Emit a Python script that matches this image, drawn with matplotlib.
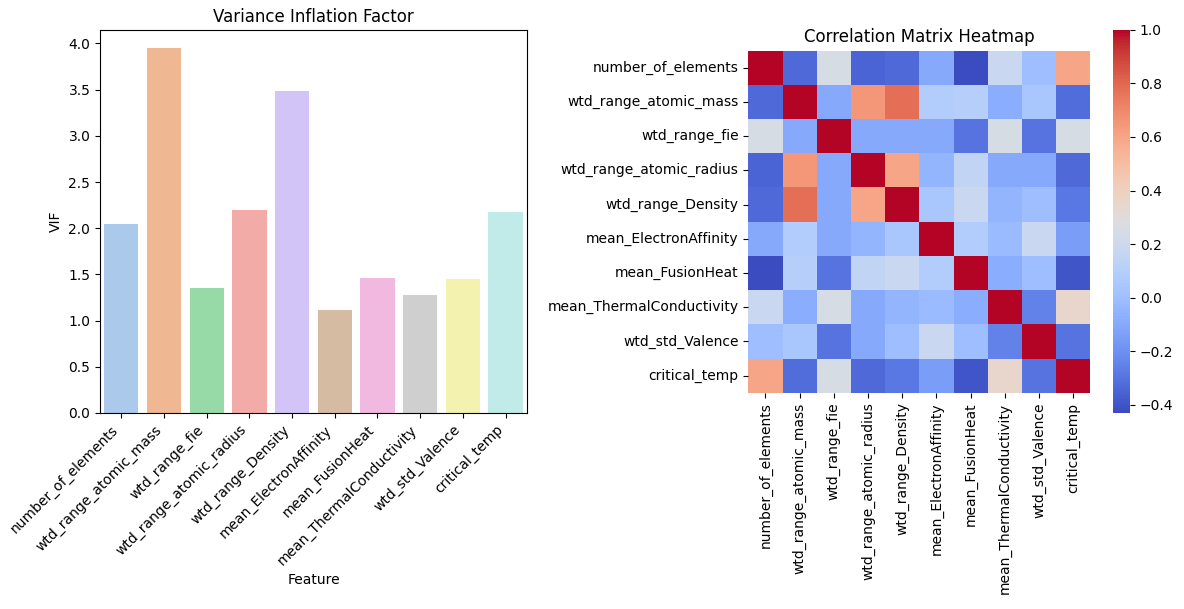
import numpy as np
import matplotlib
matplotlib.use("Agg")
import matplotlib.pyplot as plt
import seaborn as sns
import pandas as pd

features = ["number_of_elements", "wtd_range_atomic_mass", "wtd_range_fie",
            "wtd_range_atomic_radius", "wtd_range_Density", "mean_ElectronAffinity",
            "mean_FusionHeat", "mean_ThermalConductivity", "wtd_std_Valence", "critical_temp"]
vif = [2.05, 3.95, 1.35, 2.2, 3.49, 1.11, 1.46, 1.28, 1.45, 2.18]

# upper triangle of correlations, row by row
upper = [
    [-0.33, 0.25, -0.35, -0.33, -0.10, -0.43, 0.18, 0.00, 0.60],
    [-0.10, 0.65, 0.78, 0.08, 0.10, -0.08, 0.05, -0.32],
    [-0.10, -0.10, -0.10, -0.30, 0.25, -0.30, 0.25],
    [0.60, -0.05, 0.15, -0.10, -0.10, -0.33],
    [0.05, 0.18, -0.05, 0.00, -0.28],
    [0.08, -0.02, 0.18, -0.15],
    [-0.08, 0.00, -0.40],
    [-0.25, 0.35],
    [-0.30],
]
n = len(features)
corr = np.eye(n)
for i, row in enumerate(upper):
    for k, v in enumerate(row):
        j = i + 1 + k
        corr[i, j] = corr[j, i] = v
corr_df = pd.DataFrame(corr, index=features, columns=features)

fig = plt.figure(figsize=(11.84, 6.09), dpi=100)
ax1 = fig.add_axes([0.0845, 0.322, 0.3605, 0.629])
sns.barplot(x=features, y=vif, hue=features, palette="pastel", legend=False, ax=ax1)
ax1.set_title("Variance Inflation Factor")
ax1.set_xlabel("Feature")
ax1.set_ylabel("VIF")
ax1.set_xticks(range(n))
ax1.set_xticklabels(features, rotation=45, ha="right")

ax2 = fig.add_axes([0.632, 0.351, 0.289, 0.570])
cax = fig.add_axes([0.940, 0.322, 0.0144, 0.629])
sns.heatmap(corr_df, cmap="coolwarm", square=True, ax=ax2, cbar_ax=cax)
ax2.set_title("Correlation Matrix Heatmap")
fig.savefig("out.png", dpi=100)
